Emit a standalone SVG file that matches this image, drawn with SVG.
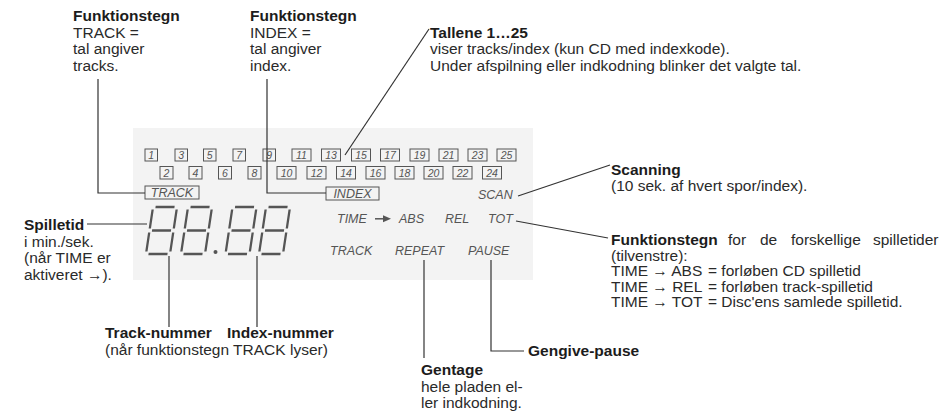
<svg xmlns="http://www.w3.org/2000/svg" xmlns:xlink="http://www.w3.org/1999/xlink" width="952" height="415" viewBox="0 0 952 415">
<style>
.t{font-family:"Liberation Sans",Arial,sans-serif;font-size:15.5px;fill:#2a2a2a}
.b{font-weight:bold;fill:#1c1c1c}
.lcd{font-family:"Liberation Sans",Arial,sans-serif;font-style:italic;font-size:12.5px;fill:#555}
.num{font-family:"Liberation Sans",Arial,sans-serif;font-style:italic;font-size:10.5px;fill:#555;text-anchor:middle}
.box{fill:none;stroke:#555;stroke-width:1}
.seg{stroke:#555;stroke-width:2.3;fill:none}
.ld{stroke:#333;stroke-width:1.2;fill:none}
</style>
<defs>
<g id="d8"><path class="seg" d="M2.5,-47H21.5M0,-44.5V-25.5M24,-44.5V-25.5M2.5,-23.5H21.5M0,-21.5V-2.5M24,-21.5V-2.5M2.5,0H21.5"/></g>
</defs>
<rect x="133" y="128" width="400" height="152" fill="#f3f3f3"/>

<g id="lcd-numbers">
<rect class="box" x="145" y="149" width="12.5" height="12"/><text class="num" x="151.2" y="159">1</text>
<rect class="box" x="175" y="149" width="12.5" height="12"/><text class="num" x="181.2" y="159">3</text>
<rect class="box" x="203.5" y="149" width="12.5" height="12"/><text class="num" x="209.7" y="159">5</text>
<rect class="box" x="233" y="149" width="12.5" height="12"/><text class="num" x="239.2" y="159">7</text>
<rect class="box" x="263" y="149" width="12.5" height="12"/><text class="num" x="269.2" y="159">9</text>
<rect class="box" x="292" y="149" width="19" height="12"/><text class="num" x="301.5" y="159">11</text>
<rect class="box" x="321.5" y="149" width="19" height="12"/><text class="num" x="331" y="159">13</text>
<rect class="box" x="351.5" y="149" width="19" height="12"/><text class="num" x="361" y="159">15</text>
<rect class="box" x="380.5" y="149" width="19" height="12"/><text class="num" x="390" y="159">17</text>
<rect class="box" x="410" y="149" width="19" height="12"/><text class="num" x="419.5" y="159">19</text>
<rect class="box" x="439" y="149" width="19" height="12"/><text class="num" x="448.5" y="159">21</text>
<rect class="box" x="468" y="149" width="19" height="12"/><text class="num" x="477.5" y="159">23</text>
<rect class="box" x="497" y="149" width="19" height="12"/><text class="num" x="506.5" y="159">25</text>
<rect class="box" x="160" y="166.5" width="13" height="12.5"/><text class="num" x="166.5" y="176.8">2</text>
<rect class="box" x="189" y="166.5" width="13" height="12.5"/><text class="num" x="195.5" y="176.8">4</text>
<rect class="box" x="218.5" y="166.5" width="13" height="12.5"/><text class="num" x="225" y="176.8">6</text>
<rect class="box" x="248" y="166.5" width="13" height="12.5"/><text class="num" x="254.5" y="176.8">8</text>
<rect class="box" x="277" y="166.5" width="19" height="12.5"/><text class="num" x="286.5" y="176.8">10</text>
<rect class="box" x="307" y="166.5" width="19" height="12.5"/><text class="num" x="316.5" y="176.8">12</text>
<rect class="box" x="336.5" y="166.5" width="19" height="12.5"/><text class="num" x="346" y="176.8">14</text>
<rect class="box" x="366" y="166.5" width="19" height="12.5"/><text class="num" x="375.5" y="176.8">16</text>
<rect class="box" x="395" y="166.5" width="19" height="12.5"/><text class="num" x="404.5" y="176.8">18</text>
<rect class="box" x="424" y="166.5" width="19" height="12.5"/><text class="num" x="433.5" y="176.8">20</text>
<rect class="box" x="453" y="166.5" width="19" height="12.5"/><text class="num" x="462.5" y="176.8">22</text>
<rect class="box" x="482.5" y="166.5" width="19" height="12.5"/><text class="num" x="492" y="176.8">24</text>
</g>

<g id="lcd-track"><rect class="box" x="145" y="186" width="54" height="13"/><text class="lcd" x="172" y="197" text-anchor="middle">TRACK</text></g>
<g id="lcd-index"><rect class="box" x="326" y="187" width="53" height="13"/><text class="lcd" x="352.5" y="198" text-anchor="middle">INDEX</text></g>

<g id="lcd-digits">
<use xlink:href="#d8" transform="translate(146 254) skewX(-8.5)"/>
<use xlink:href="#d8" transform="translate(181 254) skewX(-8.5)"/>
<circle cx="215.5" cy="252" r="2" fill="#555"/>
<use xlink:href="#d8" transform="translate(225.5 254) skewX(-8.5)"/>
<use xlink:href="#d8" transform="translate(259 254) skewX(-8.5)"/>
</g>

<g id="lcd-scan"><text class="lcd" x="478" y="199">SCAN</text></g>
<g id="lcd-time">
<text class="lcd" x="337" y="222.5">TIME</text>
<path d="M375,218.8H384" stroke="#555" stroke-width="1.5"/>
<polygon points="383,215.3 391,218.8 383,222.3" fill="#555"/>
<text class="lcd" x="399" y="222.5">ABS</text>
<text class="lcd" x="445" y="222.5">REL</text>
<text class="lcd" x="488" y="222.5">TOT</text>
</g>
<g id="lcd-modes">
<text class="lcd" x="330" y="255">TRACK</text>
<text class="lcd" x="395" y="255">REPEAT</text>
<text class="lcd" x="468" y="255">PAUSE</text>
</g>

<g id="connectors">
<path class="ld" d="M98,79V193H145"/>
<path class="ld" d="M267,79V193H326"/>
<path class="ld" d="M345,155L429,29"/>
<path class="ld" d="M518,196L610,165"/>
<path class="ld" d="M516,221L608,238"/>
<path class="ld" d="M87,224H147"/>
<path class="ld" d="M169,256V327"/>
<path class="ld" d="M257,256V327"/>
<path class="ld" d="M424,260V358"/>
<path class="ld" d="M491,260V351H524"/>
</g>

<g id="label-track-sign">
<text class="t b" x="73" y="21">Funktionstegn</text>
<text class="t" x="73" y="37.5">TRACK =</text>
<text class="t" x="73" y="54">tal angiver</text>
<text class="t" x="73" y="70.5">tracks.</text>
</g>
<g id="label-index-sign">
<text class="t b" x="250" y="21">Funktionstegn</text>
<text class="t" x="250" y="37.5">INDEX =</text>
<text class="t" x="250" y="54">tal angiver</text>
<text class="t" x="250" y="70.5">index.</text>
</g>
<g id="label-tallene">
<text class="t b" x="430" y="37.5">Tallene 1…25</text>
<text class="t" x="430" y="54">viser tracks/index (kun CD med indexkode).</text>
<text class="t" x="430" y="70.5">Under afspilning eller indkodning blinker det valgte tal.</text>
</g>
<g id="label-scanning">
<text class="t b" x="611" y="175">Scanning</text>
<text class="t" x="611" y="191">(10 sek. af hvert spor/index).</text>
</g>
<g id="label-time-signs">
<text class="t b" x="611" y="245">Funktionstegn</text>
<text class="t" y="245"><tspan x="728">for</tspan><tspan x="760">de</tspan><tspan x="791">forskellige</tspan><tspan x="873">spilletider</tspan></text>
<text class="t" x="611" y="260.5">(tilvenstre):</text>
<text class="t" y="276"><tspan x="611">TIME → ABS</tspan><tspan x="708">= forløben CD spilletid</tspan></text>
<text class="t" y="291.5"><tspan x="611">TIME → REL</tspan><tspan x="708">= forløben track-spilletid</tspan></text>
<text class="t" y="307"><tspan x="611">TIME → TOT</tspan><tspan x="708">= Disc'ens samlede spilletid.</tspan></text>
</g>
<g id="label-spilletid">
<text class="t b" x="24" y="230">Spilletid</text>
<text class="t" x="24" y="246.5">i min./sek.</text>
<text class="t" x="24" y="263">(når TIME er</text>
<text class="t" x="24" y="279.5">aktiveret →).</text>
</g>
<g id="label-track-nummer">
<text class="t b" x="105" y="338">Track-nummer</text>
<text class="t" x="105" y="354.5">(når funktionstegn TRACK lyser)</text>
</g>
<g id="label-index-nummer"><text class="t b" x="227" y="338">Index-nummer</text></g>
<g id="label-gentage">
<text class="t b" x="421" y="375">Gentage</text>
<text class="t" x="421" y="391.5">hele pladen el-</text>
<text class="t" x="421" y="408">ler indkodning.</text>
</g>
<g id="label-pause"><text class="t b" x="528" y="355.5">Gengive-pause</text></g>
</svg>
